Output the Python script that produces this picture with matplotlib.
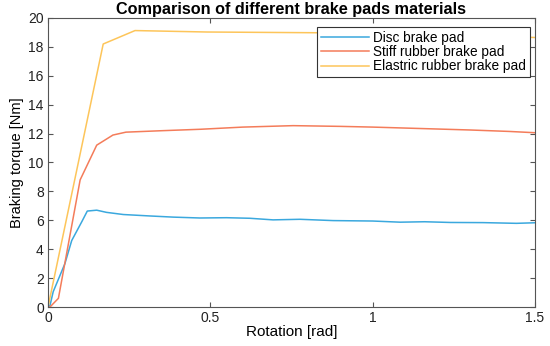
import numpy as np
import matplotlib
matplotlib.use("Agg")
import matplotlib.pyplot as plt

plt.rcParams["font.family"] = ["Liberation Sans", "DejaVu Sans"]

# rotation [rad] / braking torque [Nm]
disc_x = [0, 0.006, 0.016, 0.052, 0.073, 0.104, 0.121, 0.15, 0.18, 0.232, 0.314, 0.386,
          0.468, 0.55, 0.622, 0.693, 0.776, 0.878, 1.0, 1.085, 1.16, 1.24, 1.34, 1.443, 1.5]
disc_y = [0, 0.1, 1.06, 3.0, 4.6, 5.9, 6.64, 6.7, 6.55, 6.4, 6.3, 6.22,
          6.16, 6.18, 6.14, 6.03, 6.07, 5.98, 5.95, 5.87, 5.9, 5.85, 5.84, 5.79, 5.83]

stiff_x = [0, 0.006, 0.032, 0.099, 0.15, 0.2, 0.24, 0.35, 0.47, 0.6, 0.755, 0.9,
           1.0, 1.15, 1.3, 1.42, 1.5]
stiff_y = [0, 0, 0.6, 8.8, 11.2, 11.9, 12.1, 12.2, 12.3, 12.45, 12.55, 12.5,
           12.45, 12.35, 12.25, 12.15, 12.06]

elastic_x = [0, 0.17, 0.268, 0.49, 0.82, 1.1, 1.3, 1.5]
elastic_y = [0, 18.2, 19.13, 19.03, 18.98, 18.9, 18.8, 18.65]

fig = plt.figure(figsize=(5.5, 3.46), dpi=100)
ax = fig.add_axes([0.0873, 0.1127, 0.8854, 0.8353])

ax.plot(disc_x, disc_y, color="#3aa8de", linewidth=1.1, label="Disc brake pad")
ax.plot(stiff_x, stiff_y, color="#f47c5a", linewidth=1.1, label="Stiff rubber brake pad")
ax.plot(elastic_x, elastic_y, color="#fdc55a", linewidth=1.1, label="Elastric rubber brake pad")

ax.set_xlim(0, 1.5)
ax.set_ylim(0, 20)
ax.set_xticks([0, 0.5, 1, 1.5])
ax.set_xticklabels(["0", "0.5", "1", "1.5"])
ax.set_yticks(np.arange(0, 21, 2))

ax.tick_params(direction="in", top=True, right=True, labelsize=10, length=3.5,
               color="#555555", labelcolor="#222222", pad=3)
for s in ax.spines.values():
    s.set_color("#555555")
    s.set_linewidth(0.8)

ax.set_xlabel("Rotation [rad]", fontsize=11, labelpad=0)
ax.set_ylabel("Braking torque [Nm]", fontsize=10.5, labelpad=3)
ax.set_title("Comparison of different brake pads materials", fontsize=11.7,
             fontweight="bold", pad=3)

leg = ax.legend(loc="upper right", fontsize=9.8, handlelength=3.5, handletextpad=0.3,
                bbox_to_anchor=(0.9897, 0.97), borderaxespad=0,
                labelspacing=0.02, borderpad=0.3, fancybox=False, framealpha=1)
leg.get_frame().set_edgecolor("#333333")
leg.get_frame().set_linewidth(0.8)

fig.savefig("out.png", dpi=100)
